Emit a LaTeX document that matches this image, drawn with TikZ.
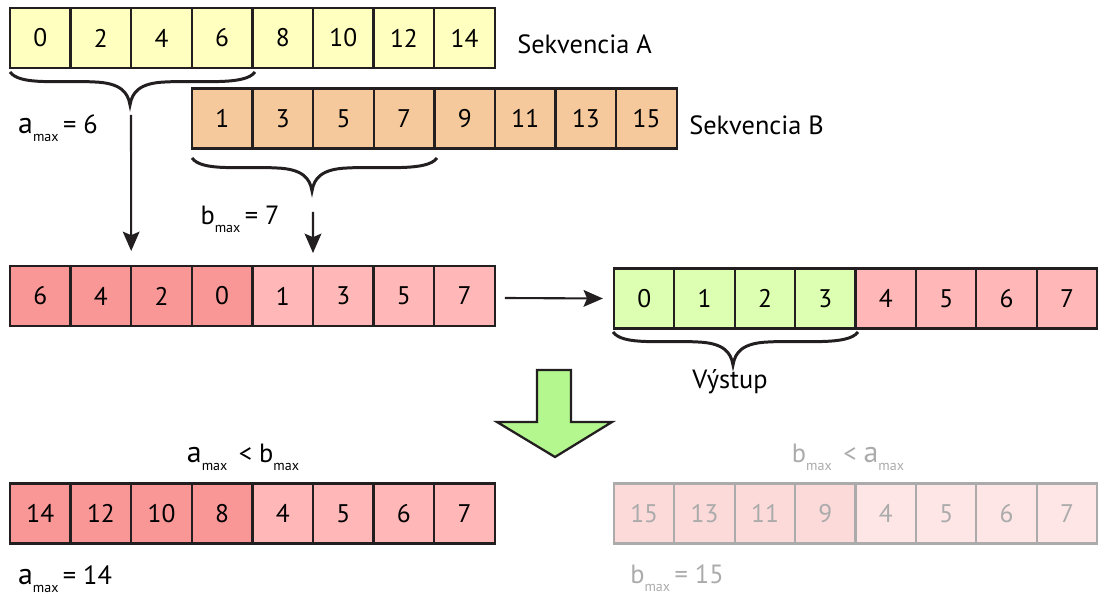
\documentclass[tikz,border=0pt]{standalone}
\usepackage{fontspec}
\setmainfont{PT Sans}
\usetikzlibrary{calc,arrows.meta}

\definecolor{ink}{HTML}{231F20}
\definecolor{seqA}{HTML}{FFFFC0}
\definecolor{seqB}{HTML}{F5C99B}
\definecolor{redD}{HTML}{F99797}
\definecolor{redL}{HTML}{FFB7B7}
\definecolor{outG}{HTML}{DDFFB2}
\definecolor{bigG}{HTML}{B4F78E}
\definecolor{fadeD}{HTML}{FCDADA}
\definecolor{fadeL}{HTML}{FEE6E6}
\definecolor{fadeInk}{HTML}{ABABAB}

% letter with a small "max" subscript
\newcommand{\maxsub}[2]{{\fontsize{#1}{#1}\selectfont #2}\raisebox{-0.6ex}{\fontsize{8}{8}\selectfont max}}

\begin{document}
\begin{tikzpicture}[x=0.02cm,y=-0.02cm,
  cell/.style={draw=ink, line width=1.3pt, minimum width=1.212cm, minimum height=1.2cm,
    inner sep=0pt, outer sep=0pt, font=\fontsize{14.5}{14.5}\selectfont, text=black},
  faded/.style={cell, draw=fadeInk, text=fadeInk},
  lbl/.style={font=\fontsize{15}{15}\selectfont, inner sep=0pt},
  arr/.style={draw=ink, line width=1.2pt, -{Stealth[length=11pt,width=9.5pt,inset=2pt]}},
  curly/.pic={\draw[ink, line width=1.7pt]
      (0,0) .. controls (10,14) and (50,8) .. (85,10)
      .. controls (110,11) and (118,20) .. (120,33)
      .. controls (122,20) and (130,11) .. (155,10)
      .. controls (190,8) and (235,14) .. (245,0);}
]
\useasboundingbox (0,0) rectangle (1098,597);

% sequence A
\foreach \v [count=\i] in {0,2,4,6,8,10,12,14}
  \node[cell, fill=seqA] (a\i) at ({40.3+(\i-1)*60.6},38) {\v};
\node[lbl, anchor=west] (labA) at (517,44) {Sekvencia A};

% sequence B
\foreach \v [count=\i] in {1,3,5,7,9,11,13,15}
  \node[cell, fill=seqB] (b\i) at ({222.3+(\i-1)*60.6},118.5) {\v};
\node[lbl, anchor=west] (labB) at (689,125) {Sekvencia B};

% braces over the first halves
\pic at (10,72) {curly};
\pic at (192,158) {curly};

\node[lbl] (amax) at (58,128) {\maxsub{17}{a}\,= 6};
\node[lbl] (bmax) at (240,219) {\maxsub{15}{b}\,= 7};

% merged half-sequences
\foreach \v [count=\i] in {6,4,2,0}
  \node[cell, fill=redD] (c\i) at ({40.3+(\i-1)*60.6},296) {\v};
\foreach \v [count=\i from 5] in {1,3,5,7}
  \node[cell, fill=redL] (c\i) at ({40.3+(\i-1)*60.6},296) {\v};

\coordinate (tipA) at (131,115);
\coordinate (tipB) at (313,212);
\draw[arr] (tipA) -- ($(c2.north east)+(0,-15)$);
\draw[arr] (tipB) -- ($(c5.north east)+(0,-13)$);

% output
\foreach \v [count=\i] in {0,1,2,3}
  \node[cell, fill=outG] (d\i) at ({644.2+(\i-1)*60.4},298.5) {\v};
\foreach \v [count=\i from 5] in {4,5,6,7}
  \node[cell, fill=redL] (d\i) at ({644.2+(\i-1)*60.4},298.5) {\v};

\draw[arr] ($(c8.east)+(10,2)$) -- ($(d1.west)+(-11,0)$);

\pic at (613,332) {curly};
\node[lbl] (out) at (730,382) {Výstup};

% big downward arrow
\draw[ink, line width=1.3pt, fill=bigG, line join=miter]
  (537,370) -- (571,370) -- (571,422) -- (612,422) -- (555,457)
  -- (497,422) -- (537,422) -- cycle;

% case a_max < b_max
\node[lbl] (condA) at (243,457) {\maxsub{17}{a}\, < \maxsub{15}{b}};
\foreach \v [count=\i] in {14,12,10,8}
  \node[cell, fill=redD] (e\i) at ({40.3+(\i-1)*60.6},513.5) {\v};
\foreach \v [count=\i from 5] in {4,5,6,7}
  \node[cell, fill=redL] (e\i) at ({40.3+(\i-1)*60.6},513.5) {\v};
\node[lbl] (amaxE) at (65,579) {\maxsub{17}{a}\,= 14};

% case b_max < a_max (not taken)
\node[lbl, text=fadeInk] (condB) at (848,457) {\maxsub{15}{b}\, < \maxsub{17}{a}};
\foreach \v [count=\i] in {15,13,11,9}
  \node[faded, fill=fadeD] (f\i) at ({644.2+(\i-1)*60.4},513.5) {\v};
\foreach \v [count=\i from 5] in {4,5,6,7}
  \node[faded, fill=fadeL] (f\i) at ({644.2+(\i-1)*60.4},513.5) {\v};
\node[lbl, text=fadeInk] (bmaxF) at (677,578) {\maxsub{15}{b}\,= 15};
\end{tikzpicture}
\end{document}
